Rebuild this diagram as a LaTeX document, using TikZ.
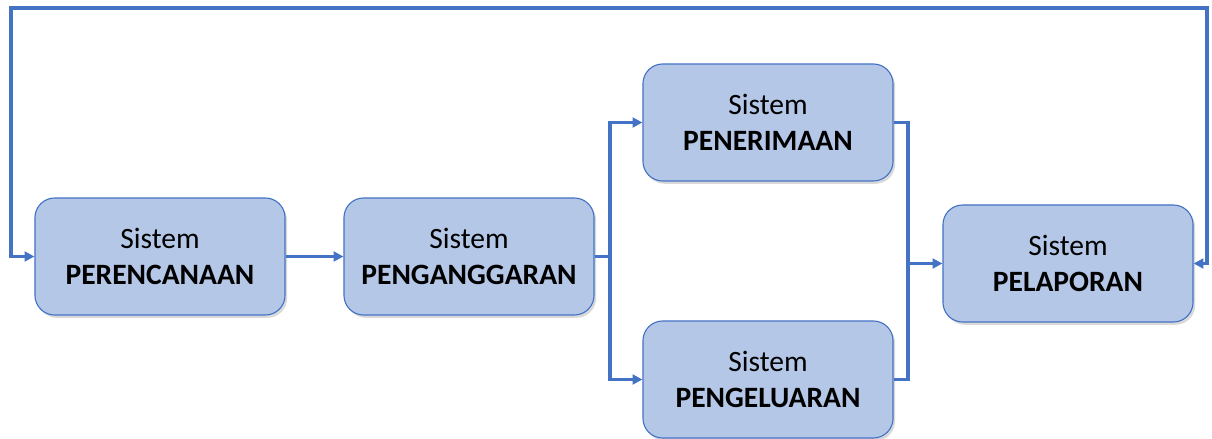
\documentclass[tikz,border=0pt]{standalone}
\usepackage{fontspec}
\setmainfont{Carlito}
\usetikzlibrary{arrows.meta,shadows}

\definecolor{caixa}{HTML}{B4C7E7}
\definecolor{linha}{HTML}{4472C4}

\tikzset{
	bloco/.style={draw=linha, fill=caixa, line width=0.8pt, rounded corners=14pt,
		minimum width=6.25cm, minimum height=2.925cm, inner sep=0pt, align=center,
		font=\fontsize{21}{26}\selectfont,
		drop shadow={shadow xshift=1.5pt, shadow yshift=-2pt, opacity=0.3}},
	liga/.style={draw=linha, line width=2.2pt},
	seta/.style={liga, -{Triangle[length=7pt, width=7pt]}}
}

\begin{document}
\begin{tikzpicture}[x=0.025cm, y=-0.025cm]
	
		\useasboundingbox (0, 0) rectangle (1212, 439);
		
		% Blocos
		
		\draw node[bloco] (perencanaan) at (160, 256.5) {Sistem\\\textbf{PERENCANAAN}} ;
		
		\draw node[bloco] (penganggaran) at (469, 256.5) {Sistem\\\textbf{PENGANGGARAN}} ;
		
		\draw node[bloco] (penerimaan) at (768, 122.5) {Sistem\\\textbf{PENERIMAAN}} ;
		
		\draw node[bloco] (pengeluaran) at (768, 379.5) {Sistem\\\textbf{PENGELUARAN}} ;
		
		\draw node[bloco] (pelaporan) at (1068, 263.5) {Sistem\\\textbf{PELAPORAN}} ;
		
		% Pontos de desvio
		
		\coordinate (divide) at (610, 256.5);
		
		\coordinate (junta) at (908, 263.5);
		
		\coordinate (topodir) at (1207, 8);
		
		\coordinate (topoesq) at (11, 8);
		
		% Ligacoes
		
		\draw[seta] (perencanaan) -- (penganggaran);
		
		\draw[liga] (penganggaran.east) -- (divide);
		
		\draw[seta] (divide) |- (penerimaan.west);
		
		\draw[seta] (divide) |- (pengeluaran.west);
		
		\draw[liga] (penerimaan.east) -| (junta) |- (pengeluaran.east);
		
		\draw[seta] (junta) -- (pelaporan.west);
		
		\draw[liga, {Triangle[length=7pt, width=7pt]}-{Triangle[length=7pt, width=7pt]}] (pelaporan.east) -| (topodir) -- (topoesq) |- (perencanaan.west);
		
	\end{tikzpicture}
\end{document}
